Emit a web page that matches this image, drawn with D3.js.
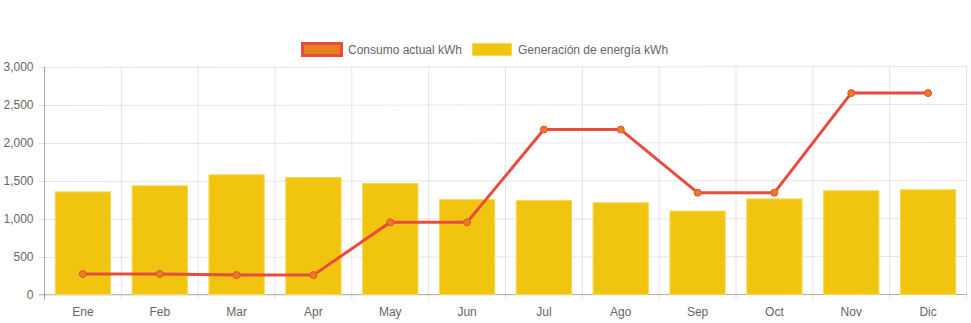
<!DOCTYPE html>
<html><head><meta charset="utf-8">
<script src="https://cdn.jsdelivr.net/npm/d3@7"></script>
<style>body{margin:0;background:#fff}svg{display:block}text{font-family:"Liberation Sans",Arial,Helvetica,sans-serif}</style>
</head><body><svg id="c" width="971" height="323"></svg>
<script>
const months = ["Ene","Feb","Mar","Apr","May","Jun","Jul","Ago","Sep","Oct","Nov","Dic"];
const consumo = [270,270,255,255,950,950,2170,2170,1340,1340,2650,2650];
const generacion = [1350,1430,1575,1540,1460,1248,1238,1207,1098,1258,1365,1378];
const yTicks = [0,500,1000,1500,2000,2500,3000];
const seriesNames = ["Consumo actual kWh","Generación de energía kWh"];

const svg = d3.select("#c");
const L = 44.5, R = 966.5, T = 66.5, B = 294.5;
const x = d3.scaleBand().domain(months).range([L, R]).paddingInner(0).paddingOuter(0);
const y = d3.scaleLinear().domain([0,3000]).range([B, T]);
const grid = "rgba(0,0,0,0.1)";

// horizontal grid
svg.append("g").selectAll("line").data(yTicks).join("line")
  .attr("x1", L-6).attr("x2", R).attr("y1", d=>Math.round(y(d))+0.5-0.5*0).attr("y2", d=>y(d))
  .attr("stroke", grid).attr("stroke-width",1);
// vertical grid at boundaries
const bounds = months.map(m=>x(m)).concat([R]);
svg.append("g").selectAll("line").data(bounds).join("line")
  .attr("x1", d=>d).attr("x2", d=>d).attr("y1", T).attr("y2", B+6)
  .attr("stroke", grid).attr("stroke-width",1);
// axis lines
svg.append("line").attr("x1",L).attr("x2",L).attr("y1",T).attr("y2",B+6).attr("stroke","rgba(0,0,0,0.25)");
svg.append("line").attr("x1",L-6).attr("x2",R).attr("y1",B).attr("y2",B).attr("stroke","rgba(0,0,0,0.25)");

// y labels
const fmt = d3.format(",");
svg.append("g").selectAll("text").data(yTicks).join("text")
  .attr("x", L-11).attr("y", d=>y(d)).attr("dy","0.35em").attr("text-anchor","end")
  .attr("font-size",12).attr("fill","#666").text(d=>fmt(d));
// x labels
svg.append("g").selectAll("text").data(months).join("text")
  .attr("x", d=>x(d)+x.bandwidth()/2).attr("y", 312).attr("dy","0.35em").attr("text-anchor","middle")
  .attr("font-size",12).attr("fill","#666").text(d=>d);

// bars
const bw = x.bandwidth()*0.72;
svg.append("g").selectAll("rect").data(generacion).join("rect")
  .attr("x", (d,i)=>x(months[i])+x.bandwidth()/2-bw/2)
  .attr("y", d=>y(d)).attr("width", bw).attr("height", d=>B-y(d))
  .attr("fill","#F1C40F").attr("stroke","#F5D85A").attr("stroke-width",1);

// line
const line = d3.line().x((d,i)=>x(months[i])+x.bandwidth()/2).y(d=>y(d));
svg.append("path").datum(consumo).attr("d", line).attr("fill","none")
  .attr("stroke","#E74C3C").attr("stroke-width",3).attr("stroke-linejoin","round");
svg.append("g").selectAll("circle").data(consumo).join("circle")
  .attr("cx",(d,i)=>x(months[i])+x.bandwidth()/2).attr("cy", d=>y(d)).attr("r",3.5)
  .attr("fill","#E67E22").attr("stroke","#E74C3C").attr("stroke-width",1);

// legend
const lg = svg.append("g");
lg.append("rect").attr("x",302.5).attr("y",43.5).attr("width",39).attr("height",12)
  .attr("fill","#E67E22").attr("stroke","#E74C3C").attr("stroke-width",3);
lg.append("text").attr("x",348).attr("y",50).attr("dy","0.35em").attr("font-size",12).attr("fill","#666").text(seriesNames[0]);
lg.append("rect").attr("x",472.5).attr("y",43.5).attr("width",39).attr("height",12)
  .attr("fill","#F1C40F").attr("stroke","#F5D85A").attr("stroke-width",1);
lg.append("text").attr("x",518).attr("y",50).attr("dy","0.35em").attr("font-size",12).attr("fill","#666").text(seriesNames[1]);
</script></body></html>
